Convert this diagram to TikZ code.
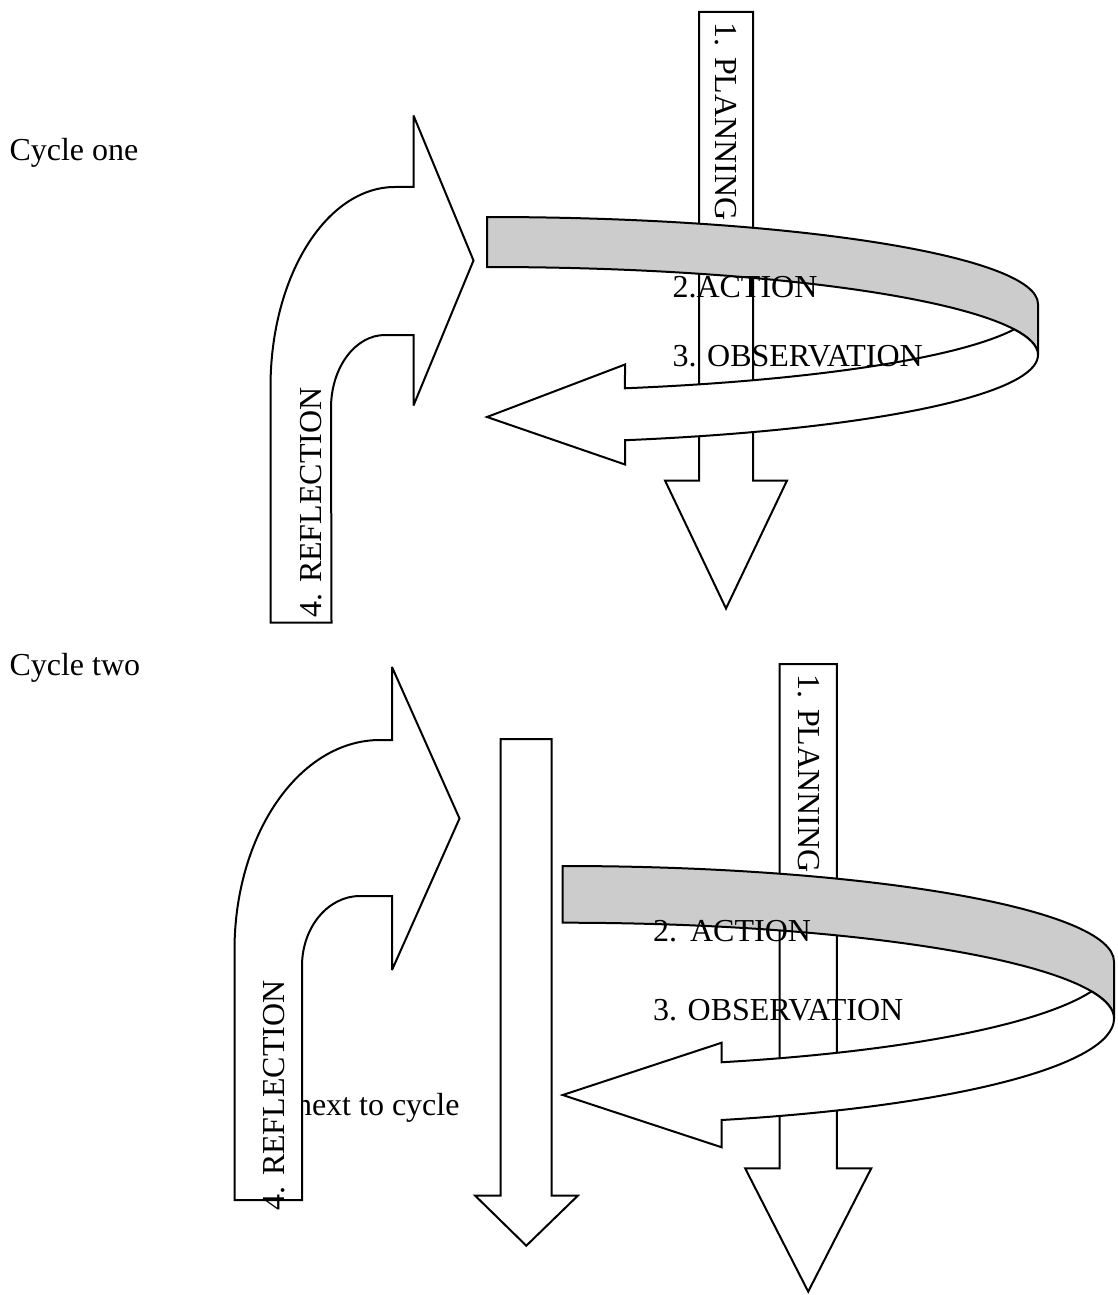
\documentclass[tikz,border=0pt]{standalone}
\usepackage{fontspec}
\setmainfont{Liberation Serif}
\tikzset{
  blockarrow/.style={draw, fill=white, line width=0.75pt, miter limit=4},
  backband/.style={draw, fill=gray!40, line width=0.75pt, miter limit=4},
  lbl/.style={inner sep=0pt, font=\fontsize{12pt}{14pt}\selectfont}
}
\begin{document}
\begin{tikzpicture}[x=0.375pt,y=-0.375pt]
\useasboundingbox (0,0) rectangle (1118,1295);

\node[lbl,anchor=base west] (cycleone) at (9,160) {Cycle one};
\node[lbl,anchor=base west] (cycletwo) at (9,675) {Cycle two};

\draw[blockarrow] (270.5,622.5) -- (270.5,387) arc[start angle=180,end angle=270,x radius=124.5,y radius=200] -- (413.5,187) -- (413.5,115.5) -- (473.5,260.5) -- (413.5,405.5) -- (413.5,335) -- (385,335) arc[start angle=270,end angle=180,x radius=54,y radius=73] -- (331.5,622.5) -- cycle;
\node[lbl,rotate=90] (reflA) at (311,502.5) {4. REFLECTION};
\draw[blockarrow] (699,12) -- (753,12) -- (753,480.5) -- (787,480.5) -- (726,608.5) -- (665,480.5) -- (699,480.5) -- cycle;
\node[lbl,rotate=-90] (planA) at (725.5,121.5) {1. PLANNING};
\draw[backband] (487,217) arc[start angle=-90,end angle=0,x radius=551,y radius=87] -- (1038,355) arc[start angle=0,end angle=-90,x radius=551,y radius=88] -- cycle;
\draw[blockarrow] (1014.1,329.4) arc[start angle=16.94,end angle=75.5,x radius=551,y radius=87] -- (625,364.5) -- (487,417) -- (625,464.5) -- (625,440.2) arc[start angle=75.5,end angle=-16.94,x radius=551,y radius=88] -- cycle;
\node[lbl,anchor=base west] (actA) at (672,297) {2.ACTION};
\node[lbl,anchor=base west] (obsA) at (672,366) {3. OBSERVATION};

\node[lbl,anchor=base west] (nextcyc) at (295.5,1115.7) {next to cycle};
\draw[blockarrow] (234.5,1200) -- (234.5,950) arc[start angle=180,end angle=270,x radius=145.5,y radius=210] -- (392,740) -- (392,667) -- (459.5,818.5) -- (392,970) -- (392,896) -- (360,896) arc[start angle=270,end angle=180,x radius=58,y radius=70] -- (302,1200) -- cycle;
\node[lbl,rotate=90] (reflB) at (274.5,1095.5) {4. REFLECTION};
\draw[blockarrow] (500.5,739) -- (551.5,739) -- (551.5,1195.5) -- (578,1195.5) -- (526.3,1245.7) -- (475,1195.5) -- (500.5,1195.5) -- cycle;
\draw[blockarrow] (779.5,664) -- (836.8,664) -- (836.8,1168.4) -- (871.2,1168.4) -- (808.2,1291.6) -- (745.2,1168.4) -- (779.5,1168.4) -- cycle;
\node[lbl,rotate=-90] (planB) at (809,773.6) {1. PLANNING};
\draw[backband] (562.7,866) arc[start angle=-90,end angle=0,x radius=551.3,y radius=95.7] -- (1114,1018.5) arc[start angle=0,end angle=-90,x radius=551.3,y radius=95.8] -- cycle;
\draw[blockarrow] (1091.5,991.4) arc[start angle=16.43,end angle=73.24,x radius=551.3,y radius=105] -- (721.7,1042.7) -- (562.7,1095) -- (721.7,1147.3) -- (721.7,1120) arc[start angle=73.24,end angle=0,x radius=551.3,y radius=106] arc[start angle=0,end angle=-16.43,x radius=551.3,y radius=95.8] -- cycle;
\node[lbl,anchor=base west] (actB) at (652.5,941.7) {2.\hspace{4.9pt}ACTION};
\node[lbl,anchor=base west] (obsB) at (652.5,1020) {3. OBSERVATION};

\end{tikzpicture}
\end{document}
